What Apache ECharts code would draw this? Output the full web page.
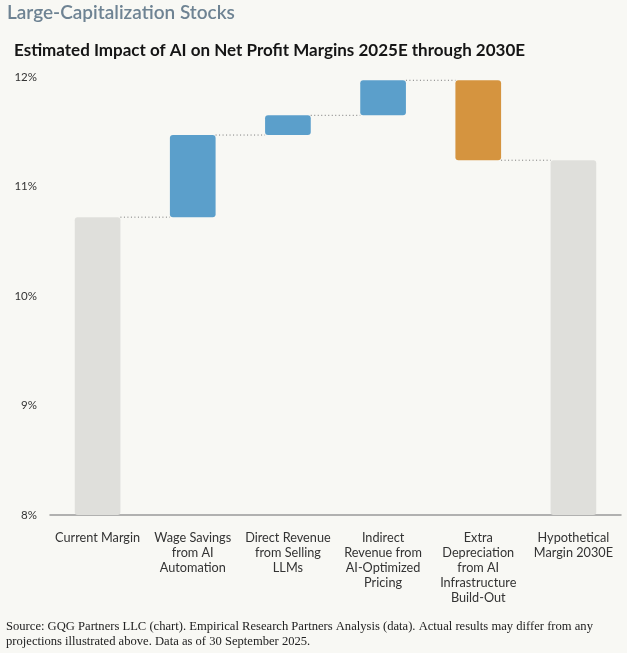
<!DOCTYPE html>
<html>
<head>
<meta charset="utf-8">
<script src="https://cdn.jsdelivr.net/npm/echarts@6/dist/echarts.min.js"></script>
<style>
html,body{margin:0;padding:0;background:#f8f8f4;}
#chart{width:627px;height:653px;}
</style>
</head>
<body>
<div id="chart"></div>
<script>
var categories = ['Current Margin', 'Wage Savings\nfrom AI\nAutomation', 'Direct Revenue\nfrom Selling\nLLMs', 'Indirect\nRevenue from\nAI-Optimized\nPricing', 'Extra\nDepreciation\nfrom AI\nInfrastructure\nBuild-Out', 'Hypothetical\nMargin 2030E'];
var currentMargin = 10.72;
var changes = [0.75, 0.18, 0.32, -0.73];
var hypotheticalMargin = 11.24;
var yTicks = [8, 9, 10, 11, 12];

var GRAY = '#dfdfdb', BLUE = '#5b9fcb', ORANGE = '#d5943f';

// build waterfall
var baseData = [0], valueData = [], levels = [currentMargin];
valueData.push({ value: currentMargin, itemStyle: { color: GRAY } });
var level = currentMargin;
changes.forEach(function (c) {
  var next = +(level + c).toFixed(4);
  baseData.push(Math.min(level, next));
  valueData.push({ value: Math.abs(c), itemStyle: { color: c >= 0 ? BLUE : ORANGE } });
  level = next;
  levels.push(level);
});
baseData.push(0);
valueData.push({ value: hypotheticalMargin, itemStyle: { color: GRAY } });

var connectorData = levels.map(function (v, i) { return [i, v]; });

var chart = echarts.init(document.getElementById('chart'));
chart.setOption({
  backgroundColor: '#f8f8f4',
  animation: false,
  textStyle: { fontFamily: 'Lato' },
  title: [
    { text: 'Large-Capitalization Stocks', left: 7, top: 3, padding: 0,
      textStyle: { fontFamily: 'Lato', fontSize: 19, fontWeight: 600, color: '#6e8393' } },
    { text: 'Estimated Impact of AI on Net Profit Margins 2025E through 2030E', left: 14, top: 42, padding: 0,
      textStyle: { fontFamily: 'Lato', fontSize: 17, fontWeight: 'bold', color: '#151515' } },
    { text: 'Source: GQG Partners LLC (chart). Empirical Research Partners Analysis (data). Actual results may differ from any\nprojections illustrated above. Data as of 30 September 2025.',
      left: 6, top: 619, padding: 0,
      textStyle: { fontFamily: 'Liberation Serif', fontSize: 12.6, fontWeight: 'normal', color: '#222', lineHeight: 15 } }
  ],
  grid: { left: 50, right: 6, top: 77, bottom: 138 },
  xAxis: {
    type: 'category',
    data: categories,
    axisTick: { show: false },
    axisLine: { lineStyle: { color: '#999', width: 1.5 } },
    axisLabel: { interval: 0, margin: 15, fontSize: 12.7, lineHeight: 15, color: '#333', fontFamily: 'Lato' }
  },
  yAxis: {
    type: 'value',
    min: yTicks[0], max: yTicks[yTicks.length - 1], interval: 1,
    splitLine: { show: false },
    axisLine: { show: false },
    axisTick: { show: false },
    axisLabel: { formatter: '{value}%', fontSize: 11.5, color: '#333', margin: 13, fontFamily: 'Lato' }
  },
  series: [
    { type: 'bar', stack: 'w', data: baseData, barWidth: '48%',
      itemStyle: { color: 'transparent' }, silent: true },
    { type: 'bar', stack: 'w', data: valueData, barWidth: '48%',
      itemStyle: { borderRadius: 3 } },
    { type: 'custom', data: connectorData, z: 1,
      renderItem: function (params, api) {
        var i = api.value(0);
        if (i >= categories.length - 1) return null;
        var v = api.value(1);
        var p1 = api.coord([i, v]);
        var p2 = api.coord([i + 1, v]);
        var half = api.size([1, 0])[0] * 0.48 / 2;
        return {
          type: 'line',
          shape: { x1: p1[0] + half, y1: p1[1], x2: p2[0] - half, y2: p2[1] },
          style: { stroke: '#777', lineWidth: 1, lineDash: [1, 2.5] }
        };
      }
    }
  ]
});
</script>
</body>
</html>
